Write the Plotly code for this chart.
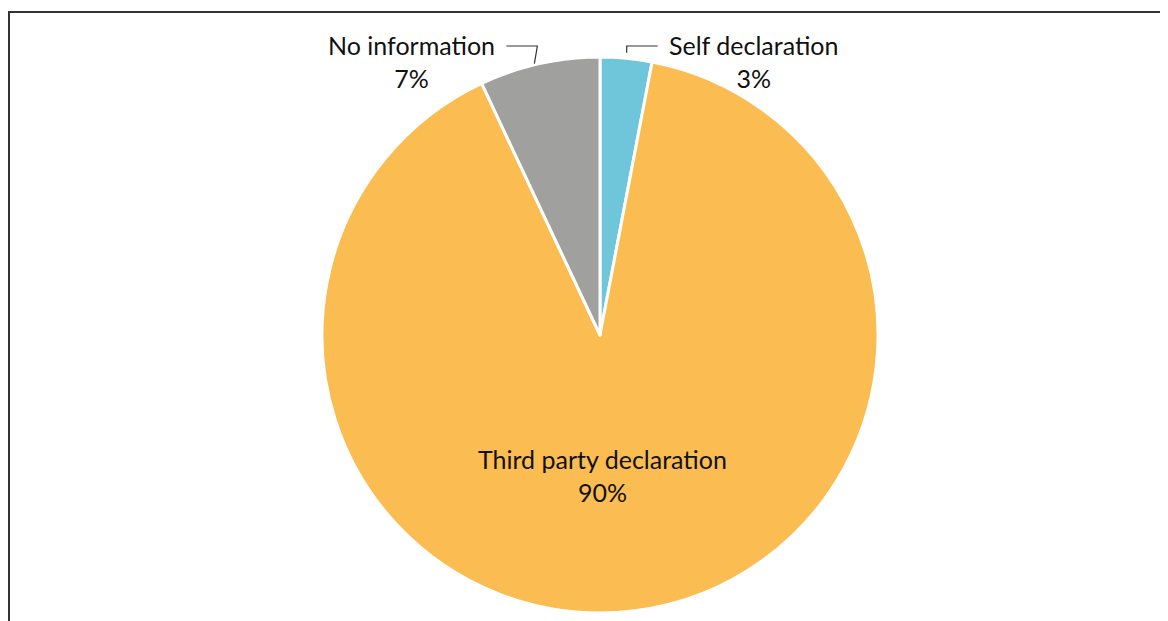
import math
import plotly.graph_objects as go

labels = ["Self declaration", "Third party declaration", "No information"]
values = [3, 90, 7]
colors = ["#6FC6DA", "#FBBC52", "#A0A09F"]
label_inside = [False, True, False]

W, H = 1168, 621
ml, mr, mt, mb = 24, 8, 49, 16
pw, ph = W - ml - mr, H - mt - mb
cx, cy = ml + pw / 2, mt + ph / 2
R = min(pw, ph) / 2
FONT = dict(family="Lato", size=25, color="#111111")

def px_to_paper(x, y):
    return (x - ml) / pw, 1 - (y - mt) / ph

fig = go.Figure(go.Pie(
    labels=labels, values=values, sort=False, direction="clockwise", rotation=0,
    marker=dict(colors=colors, line=dict(color="white", width=3)),
    textinfo="none",
    hoverinfo="label+percent", showlegend=False,
))

total = sum(values)
cum = 0
shapes = []
annotations = []
for lab, v, inside in zip(labels, values, label_inside):
    mid = (cum + v / 2) / total * 2 * math.pi
    cum += v
    txt = f"{lab}<br>{round(v / total * 100)}%"
    if inside:
        ax, ay = px_to_paper(cx + 2, cy + 0.504 * R)
        annotations.append(dict(xref="paper", yref="paper", x=ax, y=ay,
                                xanchor="center", yanchor="middle", text=txt,
                                showarrow=False, align="center", font=FONT))
        continue
    side = 1 if math.sin(mid) >= 0 else -1
    rr = 1.02 if side > 0 else 1.0
    sx = cx + R * rr * math.sin(mid) + (0 if side > 0 else -5)
    sy = cy - R * rr * math.cos(mid)
    ey = mt - 11
    ex = sx + side * 31 + (0 if side > 0 else 3)
    p0 = px_to_paper(sx, sy)
    p1 = px_to_paper(sx - side * 3 if side < 0 else sx, ey)
    p2 = px_to_paper(ex, ey)
    shapes.append(dict(type="path", xref="paper", yref="paper",
                       path=f"M {p0[0]},{p0[1]} L {p1[0]},{p1[1]} L {p2[0]},{p2[1]}",
                       line=dict(color="#333333", width=1.2)))
    tx = ex + side * 9
    ax, ay = px_to_paper(tx, ey + 16)
    annotations.append(dict(xref="paper", yref="paper", x=ax, y=ay,
                            xanchor="left" if side > 0 else "right", yanchor="middle",
                            text=txt, showarrow=False, align="center", font=FONT))

# frame
fx0, fy0 = px_to_paper(1, 4)
fx1, fy1 = px_to_paper(W + 5, H + 5)
shapes.append(dict(type="path", xref="paper", yref="paper",
                   path=f"M {fx0},{fy1} L {fx0},{fy0} L {fx1},{fy0}",
                   line=dict(color="#333333", width=2)))

fig.update_layout(
    width=W, height=H, margin=dict(l=ml, r=mr, t=mt, b=mb),
    paper_bgcolor="white", plot_bgcolor="white",
    shapes=shapes, annotations=annotations,
)
fig.write_html("out.html")
